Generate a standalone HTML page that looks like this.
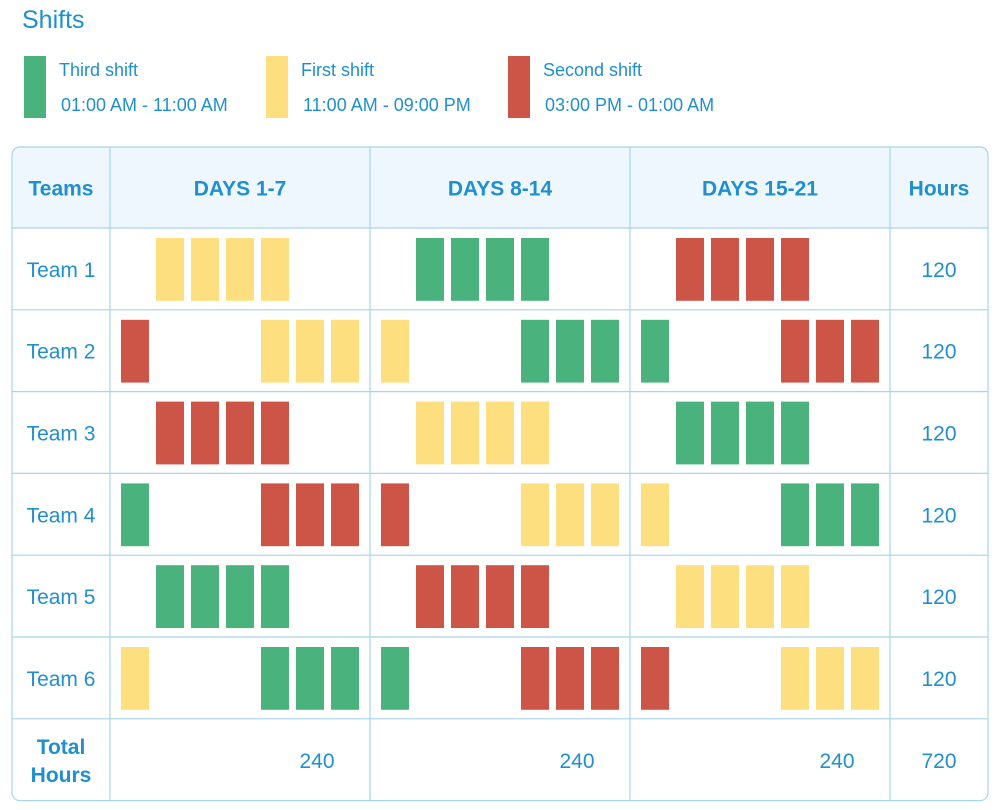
<!DOCTYPE html>
<html><head><meta charset="utf-8"><style>
body{margin:0;width:1000px;height:810px;background:#fff;font-family:"Liberation Sans",sans-serif;color:#1f8fd0;position:relative;overflow:hidden}
.abs{position:absolute}
.t{position:absolute;white-space:nowrap}
</style></head><body>
<div class="t" style="left:22px;top:6px;font-size:25px">Shifts</div>
<div id="legend"></div>
<svg id="chart" class="abs" style="left:0;top:0" width="1000" height="810"></svg>
<script>
const teams=["Team 1","Team 2","Team 3","Team 4","Team 5","Team 6"];
const periods=["DAYS 1-7","DAYS 8-14","DAYS 15-21"];
const schedule=[
"_YYYY___GGGG___RRRR__",
"R___YYYY___GGGG___RRR",
"_RRRR___YYYY___GGGG__",
"G___RRRR___YYYG___GGG".replace("YYYG","YYYG"),
"_GGGG___RRRR___YYYY__",
"Y___GGGG___RRRR___YYY"];
schedule[3]="G___RRRR___YYYY___GGG";
const teamHours=[120,120,120,120,120,120];
const periodTotals=[240,240,240];
const grandTotal=720;
const shiftNames=["Third shift","First shift","Second shift"];
const shiftTimes=["01:00 AM - 11:00 AM","11:00 AM - 09:00 PM","03:00 PM - 01:00 AM"];
const shiftCodes=["G","Y","R"];
const colors={G:"#4ab37d",Y:"#fedf80",R:"#cd5548"};
const NS="http://www.w3.org/2000/svg";
const svg=document.getElementById('chart');
function el(tag,attrs,txt){const e=document.createElementNS(NS,tag);for(const k in attrs)e.setAttribute(k,attrs[k]);if(txt!=null)e.textContent=txt;svg.appendChild(e);return e;}
// legend
shiftNames.forEach((n,i)=>{
  const x=24+i*242;
  const r=el('rect',{x:x,y:56,width:22,height:62,fill:colors[shiftCodes[i]]});
  
  
  const t1=el('text',{x:x+35,y:76,'font-size':18,fill:'#1f8fd0'},n);
  
  
  const t2=el('text',{x:x+37,y:111,'font-size':18,fill:'#1f8fd0'},shiftTimes[i]);
  
  
});
// table geometry
const X0=12,X1=988,Y0=147,HEAD=81,ROWH=81.8;
const colX=[12,110,370,630,890,988];
const rowY=i=>Y0+HEAD+i*ROWH;
const Yend=rowY(7);
const hb=el('path',{d:`M${X0} ${Y0+HEAD} V${Y0+8} Q${X0} ${Y0} ${X0+8} ${Y0} H${X1-8} Q${X1} ${Y0} ${X1} ${Y0+8} V${Y0+HEAD} Z`,fill:'#eef7fd'});


const bd=el('rect',{x:X0,y:Y0,width:X1-X0,height:Yend-Y0,rx:8,fill:'none',stroke:'#a8d4ec','stroke-width':1.2});


for(let c=1;c<5;c++){const l=el('line',{x1:colX[c],x2:colX[c],y1:Y0,y2:Yend,stroke:'#a8d4ec','stroke-width':1.2});}
for(let r=0;r<7;r++){const l=el('line',{x1:X0,x2:X1,y1:rowY(r),y2:rowY(r),stroke:'#a8d4ec','stroke-width':1.2});}
function txt(s,x,y,size,bold,name){const t=el('text',{x:x,y:y,'font-size':size,'font-weight':bold?'bold':'normal','text-anchor':'middle',fill:'#1f8fd0'},s);return t;}
const hy=Y0+HEAD/2+8;
txt("Teams",61,hy,21,true,'header-teams');
periods.forEach((p,i)=>txt(p,(colX[i+1]+colX[i+2])/2,hy,21,true,'header-period'));
txt("Hours",939,hy,21,true,'header-hours');
teams.forEach((tm,r)=>{
  const cy=rowY(r)+ROWH/2+8;
  txt(tm,61,cy,21,false,'team-label');
  txt(String(teamHours[r]),939,cy,21,false,'team-hours');
  const row=schedule[r];
  for(let d=0;d<21;d++){
    const c=row[d]; if(c==='_')continue;
    const p=Math.floor(d/7),s=d%7;
    const b=el('rect',{x:colX[p+1]+11+s*35,y:rowY(r)+10,width:28,height:ROWH-19,fill:colors[c]});
    
    
  }
});
const ty=rowY(6);
txt("Total",61,ty+35,21,true,'total-label');
txt("Hours",61,ty+63,21,true,'total-label');
periodTotals.forEach((v,i)=>txt(String(v),colX[i+1]+207,ty+49,21,false,'period-total'));
txt(String(grandTotal),939,ty+49,21,false,'grand-total');
</script>
</body></html>
